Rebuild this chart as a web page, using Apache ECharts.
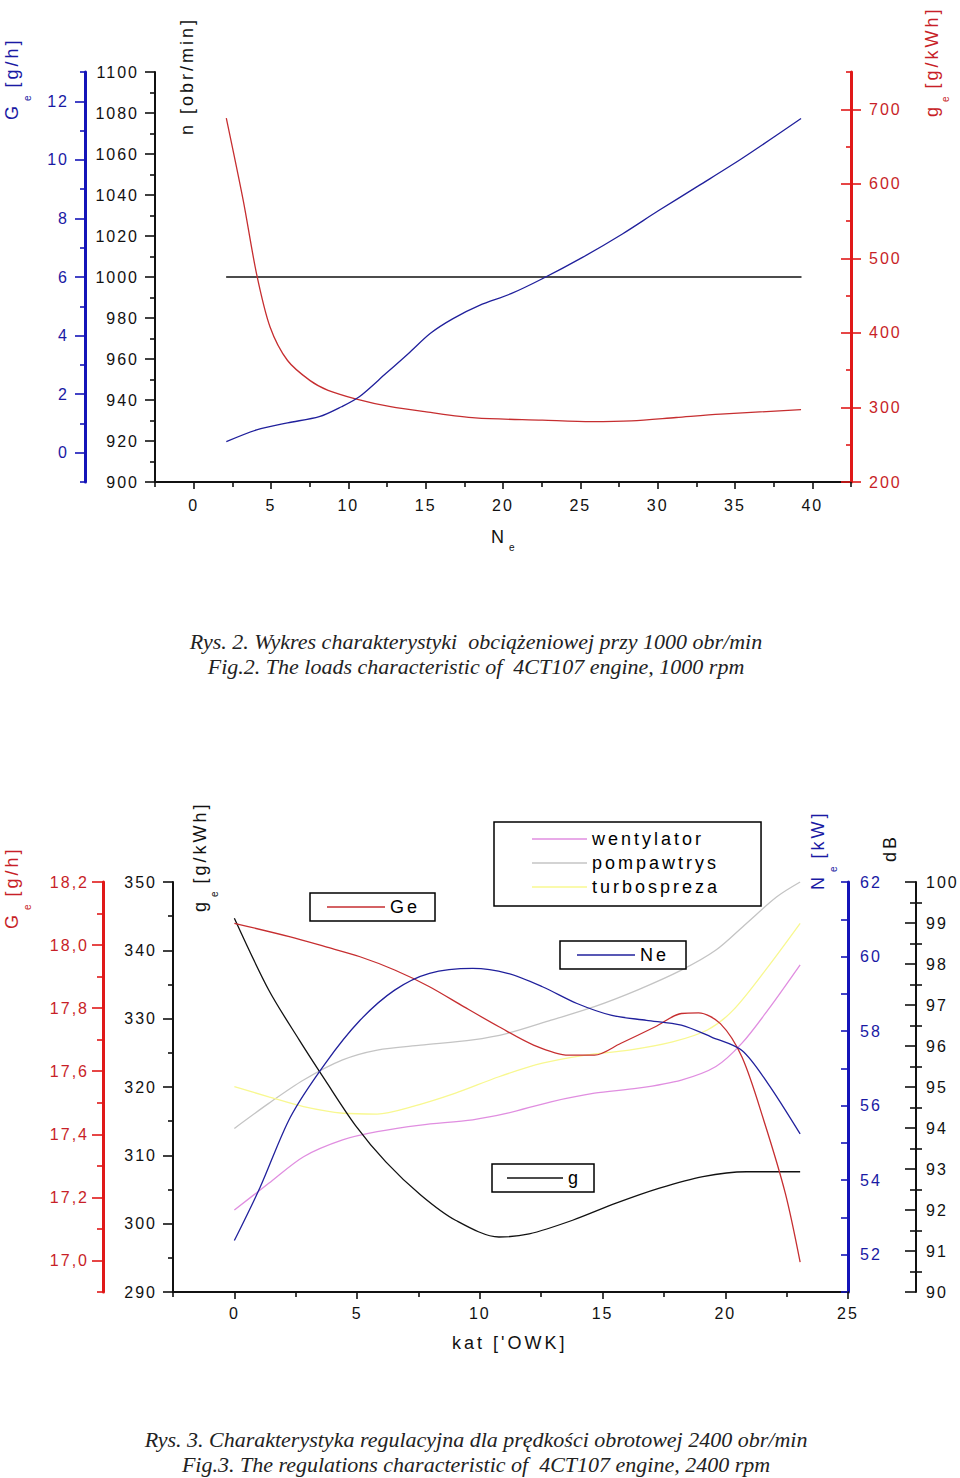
<!DOCTYPE html>
<html><head><meta charset="utf-8">
<script src="https://cdn.jsdelivr.net/npm/echarts@6/dist/echarts.min.js"></script>
<style>
html,body{margin:0;padding:0;background:#fff;}
#chart{width:960px;height:1478px;}
#chart text[style*="Liberation Sans"]{letter-spacing:3px;}
#chart text[style*="Arial"]{letter-spacing:2px;}
#chart text{white-space:pre;}
</style></head><body><div id="chart"></div>
<script>
// ---------- Fig. 2 (loads characteristic, 1000 rpm) ----------
const fig2XTicks  = [0,5,10,15,20,25,30,35,40];
const fig2XMinor  = [-2.5,2.5,7.5,12.5,17.5,22.5,27.5,32.5,37.5,42.5];
const fig2NTicks  = [900,920,940,960,980,1000,1020,1040,1060,1080,1100];
const fig2NMinor  = [910,930,950,970,990,1010,1030,1050,1070,1090];
const fig2GeTicks = [0,2,4,6,8,10,12];
const fig2GeMinor = [-1,1,3,5,7,9,11,13];
const fig2geTicks = [200,300,400,500,600,700];
const fig2geMinor = [250,350,450,550,650,750];

const fig2_n_x  = [2.1, 39.3];
const fig2_n    = [1000, 1000];
const fig2_ge_x = [2.11,3.21,4.07,4.94,6.07,7.53,8.69,10.4,12.73,15.04,18.21,22.54,25.72,28.3,31.2,34.07,39.27];
const fig2_ge   = [688,577,479,408,363,336,323,312,301,294,286,283,281,282,286.5,291,297];
const fig2_Ge_x = [2.11,4.07,6.07,8.12,9.56,10.71,12.44,13.89,15.31,16.77,18.48,20.52,22.54,25.14,27.72,30.04,32.63,35.52,39.27];
const fig2_Ge   = [0.38,0.78,1.02,1.23,1.57,1.91,2.71,3.39,4.08,4.58,5.03,5.43,5.94,6.67,7.47,8.26,9.11,10.07,11.41];

// ---------- Fig. 3 (regulations characteristic, 2400 rpm) ----------
const fig3XTicks  = [0,5,10,15,20,25];
const fig3XMinor  = [-2.5,2.5,7.5,12.5,17.5,22.5];
const fig3gTicks  = [290,300,310,320,330,340,350];
const fig3gMinor  = [295,305,315,325,335,345];
const fig3GeTicks = [17.0,17.2,17.4,17.6,17.8,18.0,18.2];
const fig3GeMinor = [16.9,17.1,17.3,17.5,17.7,17.9,18.1];
const fig3NeTicks = [52,54,56,58,60,62];
const fig3NeMinor = [51,53,55,57,59,61];
const fig3dBTicks = [90,91,92,93,94,95,96,97,98,99,100];
const fig3dBMinor = [90.5,91.5,92.5,93.5,94.5,95.5,96.5,97.5,98.5,99.5];

const fig3_g_x  = [0,1.40,2.64,3.70,4.93,6.18,7.59,9.01,10.78,12.01,13.78,15.55,17.32,19.09,20.86,23.05];
const fig3_g    = [344.7,334.2,326.9,321,314.4,309,304.2,300.5,298.05,298.5,300.5,303,305.2,306.9,307.6,307.6];
const fig3_Ge_x = [0,2.28,3.70,5.12,6.53,7.95,9.36,10.78,12.19,13.61,14.67,15.73,17.15,18.21,18.91,19.8,20.68,21.57,22.45,23.05];
const fig3_Ge   = [18.069,18.026,17.995,17.963,17.921,17.868,17.804,17.741,17.683,17.651,17.651,17.688,17.741,17.783,17.785,17.751,17.645,17.444,17.212,16.995];
const fig3_Ne_x = [0,1.05,2.28,3.70,5.12,6.53,7.95,9.71,11.13,12.55,13.96,15.38,16.79,18.21,19.44,20.68,21.74,23.05];
const fig3_Ne   = [52.38,53.81,55.69,57.13,58.29,59.10,59.55,59.68,59.55,59.19,58.74,58.42,58.29,58.16,57.84,57.48,56.59,55.24];
const fig3_w_x  = [0,1.40,2.82,4.41,5.82,7.59,9.71,11.13,12.9,14.67,16.44,18.21,19.62,20.68,21.74,23.05];
const fig3_w    = [92.0,92.65,93.30,93.71,93.91,94.07,94.20,94.36,94.64,94.85,94.97,95.17,95.50,96.07,96.88,97.98];
const fig3_p_x  = [0,1.40,2.82,4.41,5.82,7.59,9.71,11.13,12.9,14.67,16.44,18.21,19.62,20.86,22.1,23.05];
const fig3_p    = [93.99,94.60,95.17,95.66,95.90,96.02,96.15,96.31,96.63,96.96,97.37,97.85,98.34,98.99,99.64,100.0];
const fig3_t_x  = [0,1.40,2.82,4.41,5.82,7.24,9.01,10.78,12.55,14.31,16.08,17.85,19.27,20.33,21.74,23.05];
const fig3_t    = [95.01,94.76,94.52,94.36,94.34,94.52,94.85,95.25,95.58,95.78,95.90,96.10,96.39,96.88,97.93,98.99];

// ---------- styling ----------
const SANS = 'Liberation Sans';          // titles and legends
const LABEL_FONT = 'Liberation Sans, Arial'; // tick labels
const BLACK = '#111';
const BLUE_AXIS = '#1414b8', BLUE_TEXT = '#1a1aa4', BLUE_LINE = '#20209c';
const RED_AXIS = '#e01818', RED_TEXT = '#c81f28', RED_LINE = '#c62e30';

function pairs(xs, ys) { return xs.map((x, i) => [x, ys[i]]); }

function ax(grid, pos, offset, min, max, o) {
  return {
    type: 'value', gridIndex: grid, position: pos, offset: offset, min: min, max: max,
    axisLine: { show: !!o.line, onZero: false, lineStyle: { color: o.color, width: o.lw || 2 } },
    axisTick: { show: true, customValues: o.ticks, length: o.len, inside: !!o.inside,
      lineStyle: { color: o.color, width: o.tw || 1.6 } },
    axisLabel: o.labels ? { show: true, customValues: o.ticks, margin: o.margin, color: o.tcolor,
      fontFamily: LABEL_FONT, fontSize: 16, formatter: o.fmt || (v => String(v)) } : { show: false },
    splitLine: { show: false }, splitArea: { show: false }, minorTick: { show: false }
  };
}

const xAxes = [
  ax(0, 'bottom', 0, -2.5, 42.5, { line: true, color: BLACK, ticks: fig2XTicks, len: 7, labels: true, margin: 15, tcolor: BLACK }),
  ax(0, 'bottom', 0, -2.5, 42.5, { color: BLACK, ticks: fig2XMinor, len: 5 }),
  ax(1, 'bottom', 0, -2.5, 25, { line: true, color: BLACK, ticks: fig3XTicks, len: 7, labels: true, margin: 13, tcolor: BLACK }),
  ax(1, 'bottom', 0, -2.5, 25, { color: BLACK, ticks: fig3XMinor, len: 5 })
];

const fmtComma = v => v.toFixed(1).replace('.', ',');
const yAxes = [
  // 0..6 : Fig. 2
  ax(0, 'left', 0, 900, 1100, { line: true, color: BLACK, ticks: fig2NTicks, len: 10, labels: true, margin: 16, tcolor: BLACK }),
  ax(0, 'left', 0, 900, 1100, { color: BLACK, ticks: fig2NMinor, len: 5 }),
  ax(0, 'left', 70, -1, 13, { line: true, lw: 3, color: BLUE_AXIS, ticks: fig2GeTicks, len: 10, labels: true, margin: 16, tcolor: BLUE_TEXT }),
  ax(0, 'left', 70, -1, 13, { color: BLUE_AXIS, ticks: fig2GeMinor, len: 5 }),
  ax(0, 'right', 0, 200, 750, { line: true, lw: 3, color: RED_AXIS, ticks: fig2geTicks, len: 10, labels: true, margin: 18, tcolor: RED_TEXT }),
  ax(0, 'right', 0, 200, 750, { color: RED_AXIS, ticks: fig2geTicks, len: 10, inside: true }),
  ax(0, 'right', 0, 200, 750, { color: RED_AXIS, ticks: fig2geMinor, len: 5, inside: true }),
  // 7..15 : Fig. 3
  ax(1, 'left', 0, 290, 350, { line: true, color: BLACK, ticks: fig3gTicks, len: 10, labels: true, margin: 16, tcolor: BLACK }),
  ax(1, 'left', 0, 290, 350, { color: BLACK, ticks: fig3gMinor, len: 5 }),
  ax(1, 'left', 70, 16.9, 18.2, { line: true, lw: 3, color: RED_AXIS, ticks: fig3GeTicks, len: 11, labels: true, margin: 14, tcolor: RED_TEXT, fmt: fmtComma }),
  ax(1, 'left', 70, 16.9, 18.2, { color: RED_AXIS, ticks: fig3GeMinor, len: 6 }),
  ax(1, 'right', 0, 51, 62, { line: true, lw: 3, color: BLUE_AXIS, ticks: fig3NeTicks, len: 7, inside: true, labels: true, margin: 12, tcolor: BLUE_TEXT }),
  ax(1, 'right', 0, 51, 62, { color: BLUE_AXIS, ticks: fig3NeMinor, len: 7, inside: true }),
  ax(1, 'right', 68, 90, 100, { line: true, color: BLACK, ticks: fig3dBTicks, len: 11, inside: true, labels: true, margin: 10, tcolor: BLACK }),
  ax(1, 'right', 68, 90, 100, { color: BLACK, ticks: fig3dBMinor, len: 6, inside: true }),
  ax(1, 'right', 68, 90, 100, { color: BLACK, ticks: fig3dBMinor, len: 6 })
];

function line(name, xi, yi, data, color, z) {
  return { type: 'line', name: name, xAxisIndex: xi, yAxisIndex: yi, data: data,
    symbol: 'none', showSymbol: false, smooth: 0.3, silent: true, z: z || 2,
    lineStyle: { color: color, width: 1.3 }, itemStyle: { color: color } };
}

const series = [
  line('n', 0, 0, pairs(fig2_n_x, fig2_n), BLACK),
  line('g_e', 0, 4, pairs(fig2_ge_x, fig2_ge), RED_LINE),
  line('G_e', 0, 2, pairs(fig2_Ge_x, fig2_Ge), BLUE_LINE),
  line('wentylator', 2, 13, pairs(fig3_w_x, fig3_w), '#e08ee0'),
  line('pompawtrys', 2, 13, pairs(fig3_p_x, fig3_p), '#c4c4c4'),
  line('turbospreza', 2, 13, pairs(fig3_t_x, fig3_t), '#f8f890'),
  line('g', 2, 7, pairs(fig3_g_x, fig3_g), BLACK, 3),
  line('Ge', 2, 9, pairs(fig3_Ge_x, fig3_Ge), RED_LINE, 3),
  line('Ne', 2, 11, pairs(fig3_Ne_x, fig3_Ne), BLUE_LINE, 3)
];

function legendBox(names, left, top, padding, opts) {
  return Object.assign({
    data: names, left: left, top: top, orient: 'vertical', padding: padding,
    icon: 'rect', itemWidth: 58, itemHeight: 1.4, itemGap: 4, selectedMode: false,
    borderColor: '#000', borderWidth: 1.5, backgroundColor: '#fff',
    textStyle: { fontFamily: SANS, fontSize: 18, color: '#000', lineHeight: 20 }
  }, opts || {});
}

const legends = [
  legendBox(['Ge'], 310, 893, [4, 21, 4, 17]),
  legendBox(['Ne'], 560, 941, [4, 23, 4, 17]),
  legendBox(['g'], 492, 1164, [4, 16, 4, 15], { itemWidth: 56 }),
  legendBox(['wentylator', 'pompawtrys', 'turbospreza'], 494, 822, [7, 72, 9, 38], { itemWidth: 55 })
];

function richStyles(color, off) {
  return {
    m: { fontSize: 18, fontFamily: SANS, fill: color },
    s: { fontSize: 10, fontFamily: SANS, fill: color, padding: [2 * (off || 0), 0, 0, 5] }
  };
}
function vTitle(x, y, main, sub, rest, color, off) {
  const text = sub ? '{m|' + main + '}{s|' + sub + '}{m|' + rest + '}' : '{m|' + main + '}';
  return { type: 'text', x: x, y: y, rotation: Math.PI / 2, silent: true,
    style: { text: text, rich: richStyles(color, off), align: 'left', verticalAlign: 'middle' } };
}
function hTitle(x, y, main, sub, color, off) {
  const text = sub ? '{m|' + main + '}{s|' + sub + '}' : '{m|' + main + '}';
  return { type: 'text', x: x, y: y, silent: true,
    style: { text: text, rich: richStyles(color, off), align: 'left', verticalAlign: 'middle' } };
}
function caption(y, text) {
  return { type: 'text', x: 476, y: y, silent: true,
    style: { text: text, font: 'italic 22px "Liberation Serif"', fill: '#222',
      align: 'center', verticalAlign: 'middle', lineHeight: 25 } };
}

const graphics = [
  // Fig. 2 axis titles
  vTitle(12, 120, 'G', 'e', ' [g/h]', BLUE_TEXT, 15),
  vTitle(187, 135, 'n [obr/min]', null, null, BLACK),
  vTitle(932, 117, 'g', 'e', ' [g/kWh]', RED_TEXT, 13),
  hTitle(491, 537, 'N', 'e', BLACK, 10),
  caption(654, 'Rys. 2. Wykres charakterystyki  obciążeniowej przy 1000 obr/min\nFig.2. The loads characteristic of  4CT107 engine, 1000 rpm'),
  // Fig. 3 axis titles
  vTitle(12, 929, 'G', 'e', ' [g/h]', RED_TEXT, 15),
  vTitle(200, 912, 'g', 'e', ' [g/kWh]', BLACK, 14),
  vTitle(818, 890, 'N', 'e', ' [kW]', BLUE_TEXT, 15),
  vTitle(890, 862, 'dB', null, null, BLACK),
  hTitle(452, 1343, "kat ['OWK]", null, BLACK),
  caption(1452, 'Rys. 3. Charakterystyka regulacyjna dla prędkości obrotowej 2400 obr/min\nFig.3. The regulations characteristic of  4CT107 engine, 2400 rpm')
];

const chart = echarts.init(document.getElementById('chart'), null, { renderer: 'svg', width: 960, height: 1478 });
chart.setOption({
  animation: false,
  backgroundColor: '#fff',
  grid: [
    { left: 155, top: 72, width: 696, height: 410, containLabel: false },
    { left: 173, top: 882, width: 675, height: 410, containLabel: false }
  ],
  xAxis: xAxes,
  yAxis: yAxes,
  legend: legends,
  series: series,
  graphic: graphics
});
</script></body></html>
